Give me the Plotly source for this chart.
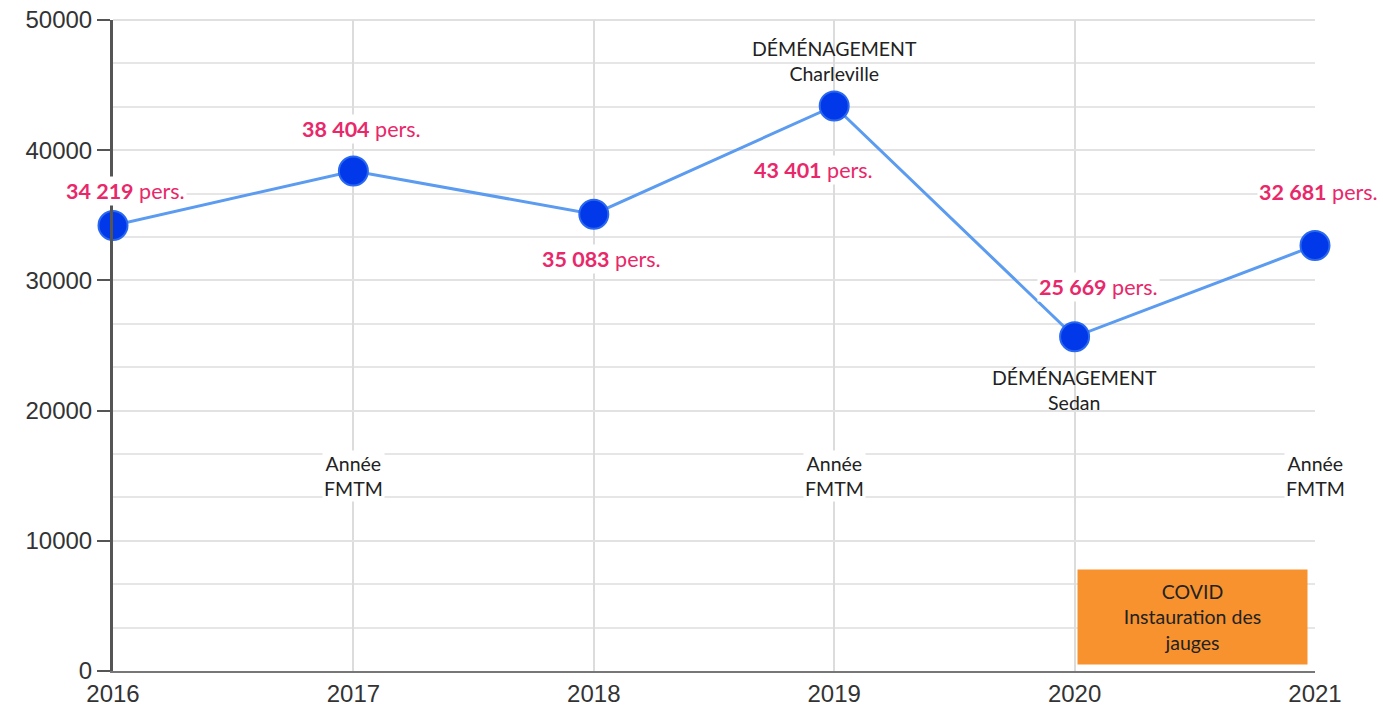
import plotly.graph_objects as go

years = [2016, 2017, 2018, 2019, 2020, 2021]
visitors = [34219, 38404, 35083, 43401, 25669, 32681]

events = {2019: "DÉMÉNAGEMENT<br>Charleville", 2020: "DÉMÉNAGEMENT<br>Sedan"}
fmtm_years = [2017, 2019, 2021]
covid_text = "COVID<br>Instauration des<br>jauges"

# label offsets (px) for the value labels
label_dx = [12, 8, 8, -21, 24, 3]
label_dy = [34, 42, -45, -64, 50, 53]
event_dy = {2019: 45, 2020: -53}

PINK = "#e8286a"
TXT_FONT = "Lato"

fig = go.Figure()
fig.add_trace(go.Scatter(
    x=years, y=visitors, mode="lines+markers", cliponaxis=False,
    line=dict(color="#5b9bf0", width=3),
    marker=dict(size=29, color="#0038ea", line=dict(color="#2a68f0", width=2)),
    showlegend=False, hoverinfo="x+y"))

annotations = []
for yr, v, dx, dy in zip(years, visitors, label_dx, label_dy):
    num = f"{v:,}".replace(",", " ")
    annotations.append(dict(
        x=yr, y=v, xref="x", yref="y", showarrow=False,
        text=f"<b>{num}</b> pers.", xshift=dx, yshift=dy,
        font=dict(family=TXT_FONT, size=21.5, color=PINK),
        bgcolor="white", borderpad=1))

for yr, txt in events.items():
    v = visitors[years.index(yr)]
    annotations.append(dict(
        x=yr, y=v, xref="x", yref="y", showarrow=False, text=txt,
        yshift=event_dy[yr], font=dict(family=TXT_FONT, size=19.5, color="#222")))

for yr in fmtm_years:
    annotations.append(dict(
        x=yr, y=15000, xref="x", yref="y", showarrow=False,
        text="Année<br>FMTM", font=dict(family=TXT_FONT, size=19.5, color="#222"),
        bgcolor="white"))

annotations.append(dict(
    x=2020.49, y=4150, xref="x", yref="y", showarrow=False, text=covid_text,
    width=229, height=94, bgcolor="#f7922e", borderpad=0,
    font=dict(family=TXT_FONT, size=19.5, color="#222")))

fig.update_layout(
    width=1383, height=713,
    margin=dict(l=113, r=68, t=20, b=42, autoexpand=False),
    plot_bgcolor="white", paper_bgcolor="white",
    annotations=annotations,
    # top border of the grid
    shapes=[dict(type="line", xref="paper", yref="paper", x0=0, x1=1, y0=1, y1=1,
                 line=dict(color="#e0e0e0", width=2), layer="below")],
    xaxis=dict(range=[2016, 2021], tickvals=years, showgrid=True,
               gridcolor="#dcdcdc", gridwidth=2, showline=True,
               linecolor="#777", linewidth=2, zeroline=False,
               automargin=False,
               tickfont=dict(family="Liberation Sans", size=24, color="#333"),
               ticklabelstandoff=0),
    yaxis=dict(range=[0, 50000], dtick=10000, tickformat="d", showgrid=True,
               gridcolor="#e2e2e2", gridwidth=2, showline=True,
               linecolor="#555", linewidth=3, zeroline=False, automargin=False,
               ticks="outside", ticklen=13, tickwidth=2, tickcolor="#555",
               minor=dict(dtick=10000 / 3, showgrid=True,
                          gridcolor="#e6e6e6", gridwidth=2),
               tickfont=dict(family="Liberation Sans", size=24, color="#333")),
)

# the default page adds an 8px body margin; drop it so the figure fills the window
fig.write_html("out.html", config={"displayModeBar": False},
               post_script="document.body.style.margin='0';")
